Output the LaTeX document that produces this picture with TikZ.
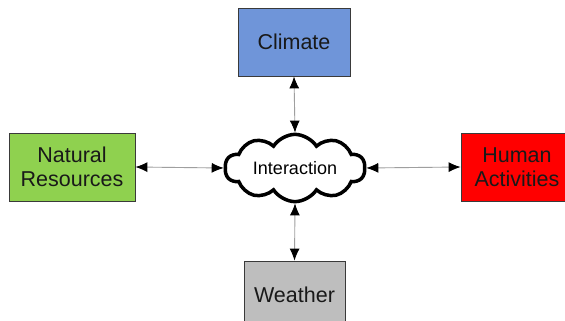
\documentclass[tikz,border=0pt]{standalone}
\usepackage{fontspec}
\setmainfont{Liberation Sans}
\usetikzlibrary{shapes.symbols,arrows.meta}
\definecolor{climateblue}{HTML}{6F95D9}
\definecolor{natgreen}{HTML}{8FD14F}
\definecolor{humred}{HTML}{FF0000}
\definecolor{weathergray}{HTML}{BEBEBE}
\definecolor{boxborder}{HTML}{3A3A3A}
\tikzset{
  box/.style={draw=boxborder, line width=0.8pt, inner sep=0pt, align=center,
    font=\fontsize{21.5}{24}\selectfont, text=black!90},
  link/.style={draw=gray!75, line width=0.9pt,
    {Latex[length=12pt,width=10pt,black]}-{Latex[length=12pt,width=10pt,black]}},
  cloudnode/.style={cloud, cloud puffs=10, cloud puff arc=115, aspect=2.4,
    draw=black, line width=3.5pt, fill=white, inner sep=0pt,
    minimum width=140pt, minimum height=60pt,
    font=\fontsize{18}{20}\selectfont}
}
\begin{document}
\begin{tikzpicture}[x=1pt,y=-1pt]
\useasboundingbox (0,0) rectangle (565,321);
\fill[white] (0,0) rectangle (565,321);
\node[box, fill=climateblue, minimum width=112pt, minimum height=68pt] (climate) at (294,42) {Climate};
\node[box, fill=natgreen, minimum width=126pt, minimum height=68pt] (nat) at (72,167) {Natural\\Resources};
\node[box, fill=humred, minimum width=112pt, minimum height=68pt] (hum) at (517,167) {Human\\Activities};
\node[box, fill=weathergray, minimum width=101pt, minimum height=68pt] (weather) at (294.5,295) {Weather};
\node[cloudnode] (inter) at (295,168) {Interaction};
\draw[link] (climate.south) -- (inter.north);
\draw[link] (nat.east) -- (inter.west);
\draw[link] (hum.west) -- (inter.east);
\draw[link] (weather.north) -- (inter.south);
\end{tikzpicture}
\end{document}
